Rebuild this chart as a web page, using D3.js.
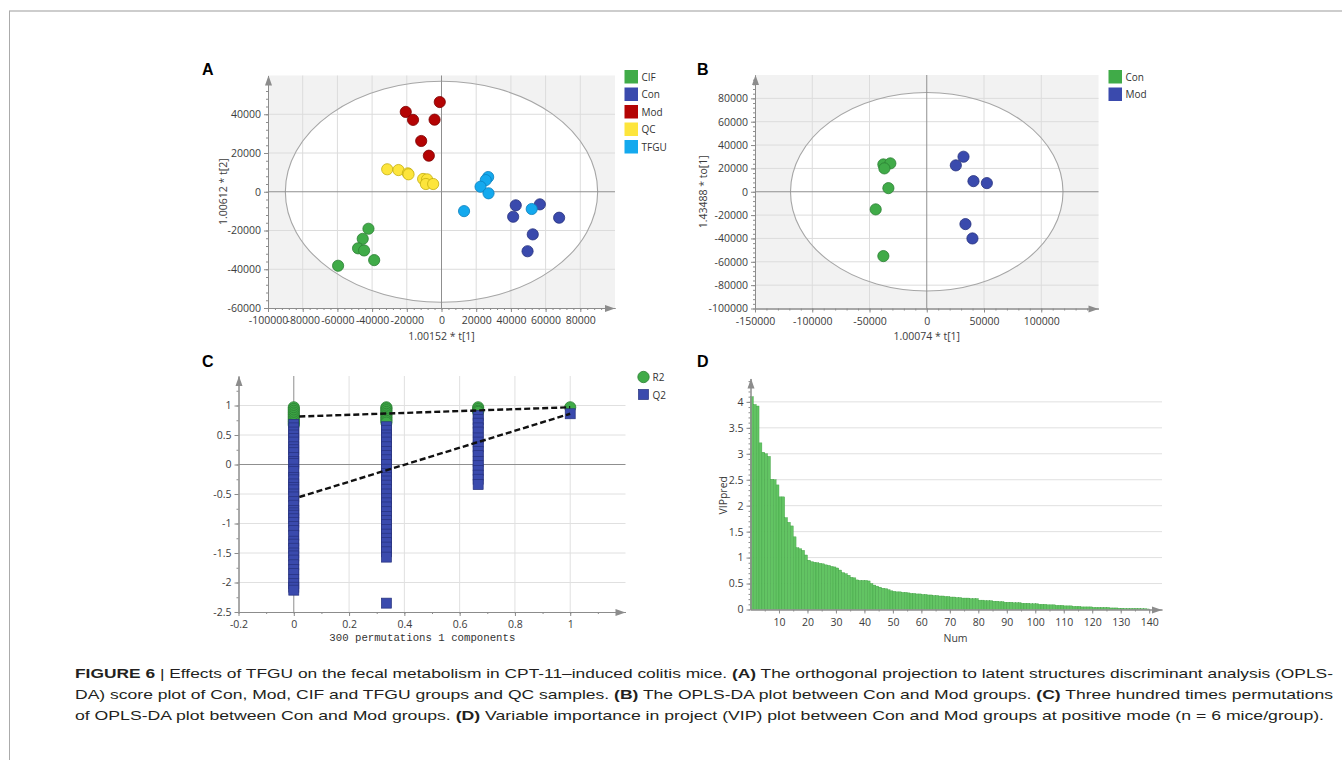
<!DOCTYPE html>
<html lang="en">
<head>
<meta charset="UTF-8">
<script src="https://d3js.org/d3.v7.min.js"></script>
<style>
    body { margin: 0; background: #fff; }
    svg { display: block; }
    .axis .domain, .axis line { stroke: #8c8c8c; }
    .axis text { font-family: "Open Sans", sans-serif; font-size: 10.5px; fill: #3c3c3c; }
    .title { font-family: "Open Sans", sans-serif; font-size: 10.5px; fill: #3c3c3c; }
    .legend text { font-family: "Open Sans", sans-serif; font-size: 10px; fill: #333; }
    .panel { font-family: "Liberation Sans", Arial, sans-serif; font-size: 16px; font-weight: bold; fill: #000; }
    .caption { font-family: "Liberation Sans", Arial, sans-serif; font-size: 13.5px; fill: #231f20; white-space: pre; }
    .caption .b { font-weight: bold; }
</style>
</head>
<body>
<svg id="fig" width="1342" height="760"></svg>
<script>
// ---- A: score plot, all groups (t[1], t[2]) ----
const groupsA = ["CIF", "Con", "Mod", "QC", "TFGU"];
const cifA  = [[-42100,-19100],[-45400,-24300],[-48100,-29200],[-44600,-30300],[-38800,-35300],[-59600,-38200]];
const conA  = [[42800,-7000],[41300,-12900],[56700,-6500],[67800,-13400],[52600,-22000],[49600,-30700]];
const modA  = [[-1000,46300],[-20600,41200],[-16400,37100],[-4000,37200],[-11700,26200],[-7300,18600]];
const qcA   = [[-31300,11600],[-24800,11200],[-19400,9500],[-19000,9000],[-10600,6600],[-8300,6400],[-9000,4000],[-4800,4000]];
const tfguA = [[26900,7600],[25500,6000],[22500,2600],[27100,-800],[13000,-10000],[52000,-8900]];
const ellipseA = [90000, 57000];
const aXTicks = [-100000,-80000,-60000,-40000,-20000,0,20000,40000,60000,80000];
const aYTicks = [-60000,-40000,-20000,0,20000,40000];

// ---- B: Con vs Mod (t[1], to[1]) ----
const groupsB = ["Con", "Mod"];
const conB = [[-37900,23400],[-31800,24300],[-37000,20000],[-33500,3100],[-44600,-15100],[-37900,-55100]];
const modB = [[32100,30000],[25400,22600],[40800,9100],[52500,7400],[33800,-27700],[39900,-40000]];
const ellipseB = [119000, 85000];
const bXTicks = [-150000,-100000,-50000,0,50000,100000];
const bYTicks = [-100000,-80000,-60000,-40000,-20000,0,20000,40000,60000,80000];

// ---- C: 300 permutations ----
const permX = [0, 0.335, 0.667, 1];
const r2Perm = [
    [0.97,0.94,0.91,0.88,0.85,0.82,0.79,0.76,0.73,0.70,0.67],
    [0.97,0.95,0.92,0.89,0.86,0.83,0.80,0.77,0.74,0.71],
    [0.97,0.94,0.91,0.89],
    [0.97]
];
const q2Perm = [
    [0.68,0.62,0.55,0.50,0.44,0.38,0.30,0.25,0.20,0.12,0.05,0.02,-0.08,-0.12,-0.22,-0.26,-0.33,-0.39,-0.43,-0.50,
     -0.55,-0.63,-0.69,-0.78,-0.82,-0.86,-0.92,-0.98,-1.05,-1.12,-1.20,-1.30,-1.35,-1.42,-1.50,-1.55,-1.62,-1.70,
     -1.78,-1.85,-1.95,-2.02,-2.08,-2.13],
    [0.64,0.58,0.50,0.45,0.38,0.30,0.22,0.15,0.08,0.00,-0.08,-0.15,-0.22,-0.28,-0.35,-0.42,-0.50,-0.58,-0.65,
     -0.72,-0.80,-0.88,-0.95,-1.02,-1.10,-1.18,-1.25,-1.32,-1.40,-1.48,-1.57,-2.35],
    [0.83,0.76,0.70,0.62,0.55,0.45,0.38,0.30,0.22,0.15,0.05,-0.02,-0.10,-0.18,-0.25,-0.34],
    [0.86]
];
const r2Intercept = 0.81;
const q2Intercept = -0.58;
const cXTicks = [-0.2,0,0.2,0.4,0.6,0.8,1];
const cYTicks = [-2.5,-2,-1.5,-1,-0.5,0,0.5,1];

// ---- D: VIP values, sorted ----
const vipPred = [
    4.10,3.95,3.92,3.21,3.03,3.00,2.95,2.51,2.50,2.40,
    2.17,2.17,1.77,1.68,1.61,1.40,1.19,1.17,1.14,1.05,
    0.95,0.92,0.91,0.90,0.89,0.88,0.86,0.85,0.83,0.82,
    0.80,0.76,0.71,0.69,0.66,0.62,0.61,0.57,0.56,0.56,
    0.56,0.55,0.50,0.47,0.45,0.43,0.41,0.40,0.38,0.36,
    0.35,0.34,0.34,0.33,0.33,0.32,0.31,0.31,0.30,0.30,
    0.29,0.29,0.28,0.28,0.27,0.27,0.26,0.26,0.25,0.25,
    0.24,0.24,0.23,0.23,0.22,0.22,0.22,0.21,0.21,0.21,
    0.18,0.18,0.17,0.17,0.17,0.16,0.16,0.15,0.15,0.14,
    0.14,0.14,0.13,0.13,0.13,0.12,0.12,0.12,0.11,0.11,
    0.11,0.10,0.10,0.10,0.09,0.09,0.09,0.08,0.08,0.08,
    0.07,0.07,0.07,0.06,0.06,0.06,0.05,0.05,0.05,0.05,
    0.04,0.04,0.04,0.04,0.04,0.04,0.03,0.03,0.03,0.025,
    0.025,0.02,0.02,0.02,0.02,0.02,0.02,0.015,0.015,0.01
];
const dXTicks = [10,20,30,40,50,60,70,80,90,100,110,120,130,140];
const dYTicks = [0,0.5,1,1.5,2,2.5,3,3.5,4];

// fill / outline per colour name
const palette = {
    green:  ["#40ab48", "#2b7f33"],
    blue:   ["#3a4aad", "#26317d"],
    red:    ["#b40404", "#7c0000"],
    yellow: ["#fde53c", "#c4ae10"],
    cyan:   ["#14a9ee", "#0b7fbd"]
};
const axisColor = "#8c8c8c";

const svg = d3.select("#fig");

// frame of the figure
svg.append("line").attr("x1", 9).attr("x2", 1342).attr("y1", 11).attr("y2", 11)
    .attr("stroke", "#bdbdbd").attr("stroke-width", 1.6);
svg.append("line").attr("x1", 9.5).attr("x2", 9.5).attr("y1", 11).attr("y2", 760)
    .attr("stroke", "#ababab").attr("stroke-width", 1);

function gridLines(g, x, y, xs, ys, color) {
    g.selectAll(null).data(xs).enter().append("line")
        .attr("x1", d => x(d)).attr("x2", d => x(d))
        .attr("y1", y.range()[0]).attr("y2", y.range()[1])
        .attr("stroke", color);
    g.selectAll(null).data(ys).enter().append("line")
        .attr("x1", x.range()[0]).attr("x2", x.range()[1])
        .attr("y1", d => y(d)).attr("y2", d => y(d))
        .attr("stroke", color);
}

function drawAxes(g, x, y, xTicks, yTicks, xMinor, yMinor) {
    const [xl, xr] = x.range(), [yb, yt] = y.range();
    g.append("g").attr("class", "axis").attr("transform", `translate(0,${yb})`)
        .call(d3.axisBottom(x).tickValues(xMinor).tickSize(2).tickSizeOuter(0).tickFormat(""));
    g.append("g").attr("class", "axis").attr("transform", `translate(0,${yb})`)
        .call(d3.axisBottom(x).tickValues(xTicks).tickSize(4).tickSizeOuter(0).tickPadding(5).tickFormat(d => String(d)));
    g.append("g").attr("class", "axis").attr("transform", `translate(${xl},0)`)
        .call(d3.axisLeft(y).tickValues(yMinor).tickSize(2).tickSizeOuter(0).tickFormat(""));
    g.append("g").attr("class", "axis").attr("transform", `translate(${xl},0)`)
        .call(d3.axisLeft(y).tickValues(yTicks).tickSize(4).tickSizeOuter(0).tickPadding(3).tickFormat(d => String(d)));
    g.append("path").attr("d", `M${xr},${yb + 0.5}l-10,-3.5v7z`).attr("fill", axisColor);
    g.append("path").attr("d", `M${xl + 0.5},${yt}l-3.5,10h7z`).attr("fill", axisColor);
}

// series: [label, points, colour name]
function scorePlot(g, x, y, xTicks, yTicks, ell, series, legendX, titles) {
    const [xl, xr] = x.range(), [yb, yt] = y.range();
    g.append("rect").attr("x", xl).attr("y", yt).attr("width", xr - xl).attr("height", yb - yt)
        .attr("fill", "#f2f2f2");
    g.append("ellipse").attr("cx", x(0)).attr("cy", y(0))
        .attr("rx", x(ell[0]) - x(0)).attr("ry", y(0) - y(ell[1]))
        .attr("fill", "#fff");
    gridLines(g, x, y, xTicks.filter(d => d !== 0 && d !== x.domain()[0]),
        yTicks.filter(d => d !== 0 && d !== y.domain()[0]), "#dcdcdc");
    g.append("ellipse").attr("cx", x(0)).attr("cy", y(0))
        .attr("rx", x(ell[0]) - x(0)).attr("ry", y(0) - y(ell[1]))
        .attr("fill", "none").attr("stroke", "#a6a6a6").attr("stroke-width", 1.1);
    gridLines(g, x, y, [0], [0], "#8f8f8f");

    const xStep = (xTicks[1] - xTicks[0]) / 5, yStep = (yTicks[1] - yTicks[0]) / 5;
    drawAxes(g, x, y, xTicks, yTicks,
        d3.range(x.domain()[0], x.domain()[1], xStep), d3.range(y.domain()[0], y.domain()[1], yStep));

    series.forEach(([name, pts, col]) => {
        g.selectAll(null).data(pts).enter().append("circle")
            .attr("cx", d => x(d[0])).attr("cy", d => y(d[1])).attr("r", 5.6)
            .attr("fill", palette[col][0]).attr("stroke", palette[col][1]).attr("stroke-width", 0.8);
    });

    const lg = g.append("g").attr("class", "legend");
    series.forEach(([name, pts, col], i) => {
        lg.append("rect").attr("x", legendX).attr("y", 70 + 17.5 * i).attr("width", 13.5).attr("height", 13.5)
            .attr("fill", palette[col][0]);
        lg.append("text").attr("x", legendX + 17).attr("y", 70 + 17.5 * i + 10.5).text(name);
    });

    g.append("text").attr("class", "title").attr("text-anchor", "middle")
        .attr("x", x(0)).attr("y", 339.5).text(titles[0]);
    g.append("text").attr("class", "title").attr("text-anchor", "middle")
        .attr("transform", `translate(${titles[2]},${y(0)}) rotate(-90)`).text(titles[1]);
}

// ---------- A ----------
const xA = d3.scaleLinear().domain([-100000, 100000]).range([268, 615]);
const yA = d3.scaleLinear().domain([-60000, 60000]).range([308, 75.5]);
const coloursA = ["green", "blue", "red", "yellow", "cyan"];
const seriesA = [cifA, conA, modA, qcA, tfguA].map((pts, i) => [groupsA[i], pts, coloursA[i]]);
scorePlot(svg.append("g"), xA, yA, aXTicks, aYTicks, ellipseA, seriesA, 624.5,
    ["1.00152 * t[1]", "1.00612 * t[2]", 226.5]);

// ---------- B ----------
const xB = d3.scaleLinear().domain([-150000, 150000]).range([755, 1098.5]);
const yB = d3.scaleLinear().domain([-100000, 100000]).range([308.5, 75]);
const seriesB = [[groupsB[0], conB, "green"], [groupsB[1], modB, "blue"]];
scorePlot(svg.append("g"), xB, yB, bXTicks, bYTicks, ellipseB, seriesB, 1108.5,
    ["1.00074 * t[1]", "1.43488 * to[1]", 707]);

// ---------- C ----------
const xC = d3.scaleLinear().domain([-0.2, 1.2]).range([238.5, 625.5]);
const yC = d3.scaleLinear().domain([-2.5, 1.5]).range([612, 376]);
const gC = svg.append("g");
gridLines(gC, xC, yC, cXTicks.filter(d => d > 0), cYTicks.filter(d => d !== 0 && d !== -2.5), "#e0e0e0");
gridLines(gC, xC, yC, [0], [0], "#8f8f8f");
drawAxes(gC, xC, yC, cXTicks, cYTicks, d3.range(-0.2, 1.15, 0.1), d3.range(-2.5, 1.45, 0.25));

const green = palette.green, blue = palette.blue;
permX.forEach((px, i) => {
    gC.selectAll(null).data(r2Perm[i]).enter().append("circle")
        .attr("cx", xC(px)).attr("cy", d => yC(d)).attr("r", 5.6)
        .attr("fill", green[0]).attr("stroke", green[1]).attr("stroke-width", 0.8);
});
permX.forEach((px, i) => {
    gC.selectAll(null).data(q2Perm[i]).enter().append("rect")
        .attr("x", xC(px) - 5).attr("y", d => yC(d) - 5).attr("width", 10).attr("height", 10)
        .attr("fill", blue[0]).attr("stroke", blue[1]).attr("stroke-width", 0.7);
});
const regLine = d3.line().x(d => xC(d[0])).y(d => yC(d[1]));
[[r2Intercept, r2Perm[3][0]], [q2Intercept, q2Perm[3][0]]].forEach(([a, b]) => {
    gC.append("path").attr("d", regLine([[0.02, a + (b - a) * 0.02], [1, b]]))
        .attr("fill", "none").attr("stroke", "#111").attr("stroke-width", 2.4).attr("stroke-dasharray", "6,3");
});
const lgC = gC.append("g").attr("class", "legend");
lgC.append("circle").attr("cx", 643.5).attr("cy", 377).attr("r", 5.7)
    .attr("fill", green[0]).attr("stroke", green[1]).attr("stroke-width", 0.8);
lgC.append("rect").attr("x", 638.5).attr("y", 389.5).attr("width", 10).attr("height", 10)
    .attr("fill", blue[0]).attr("stroke", blue[1]).attr("stroke-width", 0.7);
lgC.append("text").attr("x", 652.5).attr("y", 380.5).text("R2");
lgC.append("text").attr("x", 652.5).attr("y", 398.5).text("Q2");
gC.append("text").attr("x", xC(0.465)).attr("y", 641).attr("text-anchor", "middle")
    .style("font-family", "'Liberation Mono', monospace").style("font-size", "10.7px").style("fill", "#333")
    .text("300 permutations 1 components");

// ---------- D ----------
const xD = d3.scaleLinear().domain([0, 144.5]).range([750.5, 1162]);
const yD = d3.scaleLinear().domain([0, 4.45]).range([609.5, 378.5]);
const gD = svg.append("g");
gridLines(gD, xD, yD, [], dYTicks.filter(d => d > 0), "#e0e0e0");
gD.selectAll(null).data(vipPred).enter().append("rect")
    .attr("x", (d, i) => xD(i))
    .attr("width", (d, i) => xD(i + 1) - xD(i))
    .attr("y", d => yD(d))
    .attr("height", d => yD(0) - yD(d))
    .attr("fill", "#62c463").attr("stroke", "#3e9f40").attr("stroke-width", 0.4);
drawAxes(gD, xD, yD, dXTicks, dYTicks, d3.range(5, 141, 5), d3.range(0, 4.41, 0.1));
gD.append("text").attr("class", "title").attr("text-anchor", "middle")
    .attr("x", xD(72)).attr("y", 641.5).text("Num");
gD.append("text").attr("class", "title").attr("text-anchor", "middle")
    .attr("transform", `translate(727,${yD(2.2)}) rotate(-90)`).text("VIPpred");

// panel letters
[["A", 202, 74.5], ["B", 697, 74.5], ["C", 202, 367], ["D", 697, 367]].forEach(([t, x, y]) => {
    svg.append("text").attr("class", "panel").attr("x", x).attr("y", y).text(t);
});

// caption
const captionLines = [
    [["FIGURE 6", true], [" | ", false], ["Effects of TFGU on the fecal metabolism in CPT-11\u2013induced colitis mice. ", false],
     ["(A)", true], [" The orthogonal projection to latent structures discriminant analysis (OPLS-", false]],
    [["DA) score plot of Con, Mod, CIF and TFGU groups and QC samples. ", false], ["(B)", true],
     [" The OPLS-DA plot between Con and Mod groups. ", false], ["(C)", true], [" Three hundred times permutations", false]],
    [["of OPLS-DA plot between Con and Mod groups. ", false], ["(D)", true],
     [" Variable importance in project (VIP) plot between Con and Mod groups at positive mode (n = 6 mice/group).", false]]
];
const lineWidths = [1258, 1258, 1249];
captionLines.forEach((parts, i) => {
    const t = svg.append("text").attr("class", "caption")
        .attr("x", 75).attr("y", 678 + 21 * i)
        .attr("textLength", lineWidths[i]).attr("lengthAdjust", "spacingAndGlyphs");
    parts.forEach(([s, b]) => t.append("tspan").attr("class", b ? "b" : null).text(s));
});
</script>
</body>
</html>
